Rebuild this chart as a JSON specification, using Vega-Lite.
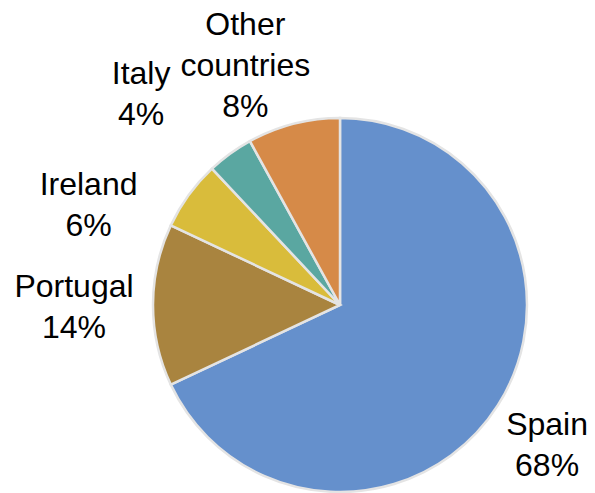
{
  "$schema": "https://vega.github.io/schema/vega-lite/v6.json",
  "width": 374,
  "height": 374,
  "autosize": {"type": "none"},
  "padding": {"left": 153, "top": 118, "right": 68, "bottom": 1},
  "background": "white",
  "config": {"view": {"stroke": null}},
  "data": {
    "values": [
      {"country": "Spain", "label": "Spain\n68%", "share": 68, "rank": 1},
      {"country": "Portugal", "label": "Portugal\n14%", "share": 14, "rank": 2},
      {"country": "Ireland", "label": "Ireland\n6%", "share": 6, "rank": 3},
      {"country": "Italy", "label": "Italy\n4%", "share": 4, "rank": 4},
      {"country": "Other countries", "label": "Other\ncountries\n8%", "share": 8, "rank": 5}
    ]
  },
  "encoding": {
    "theta": {"field": "share", "type": "quantitative", "stack": true},
    "order": {"field": "rank", "type": "quantitative"}
  },
  "layer": [
    {
      "mark": {"type": "arc", "stroke": "#e4e4e4", "strokeWidth": 2.5},
      "encoding": {
        "color": {
          "field": "country",
          "type": "nominal",
          "legend": null,
          "scale": {
            "domain": ["Spain", "Portugal", "Ireland", "Italy", "Other countries"],
            "range": ["#6590CC", "#A9843F", "#D9BC3B", "#5AA7A1", "#D68A48"]
          }
        }
      }
    },
    {
      "mark": {"type": "text", "radius": 250, "dx": -4, "dy": -14, "font": "Liberation Sans", "fontSize": 32, "lineBreak": "\n", "lineHeight": 41, "align": "center", "baseline": "middle", "color": "#000000"},
      "encoding": {"text": {"condition": {"test": "datum.country === 'Spain'", "field": "label"}, "value": ""}}
    },
    {
      "mark": {"type": "text", "radius": 266, "dx": 0, "dy": -18, "font": "Liberation Sans", "fontSize": 32, "lineBreak": "\n", "lineHeight": 41, "align": "center", "baseline": "middle", "color": "#000000"},
      "encoding": {"text": {"condition": {"test": "datum.country === 'Portugal'", "field": "label"}, "value": ""}}
    },
    {
      "mark": {"type": "text", "radius": 270, "dx": -33, "dy": 39, "font": "Liberation Sans", "fontSize": 32, "lineBreak": "\n", "lineHeight": 41, "align": "center", "baseline": "middle", "color": "#000000"},
      "encoding": {"text": {"condition": {"test": "datum.country === 'Ireland'", "field": "label"}, "value": ""}}
    },
    {
      "mark": {"type": "text", "radius": 289, "dx": -29, "dy": 3, "font": "Liberation Sans", "fontSize": 32, "lineBreak": "\n", "lineHeight": 41, "align": "center", "baseline": "middle", "color": "#000000"},
      "encoding": {"text": {"condition": {"test": "datum.country === 'Italy'", "field": "label"}, "value": ""}}
    },
    {
      "mark": {"type": "text", "radius": 256, "dx": -31, "dy": -32, "font": "Liberation Sans", "fontSize": 32, "lineBreak": "\n", "lineHeight": 41, "align": "center", "baseline": "middle", "color": "#000000"},
      "encoding": {"text": {"condition": {"test": "datum.country === 'Other countries'", "field": "label"}, "value": ""}}
    }
  ]
}
